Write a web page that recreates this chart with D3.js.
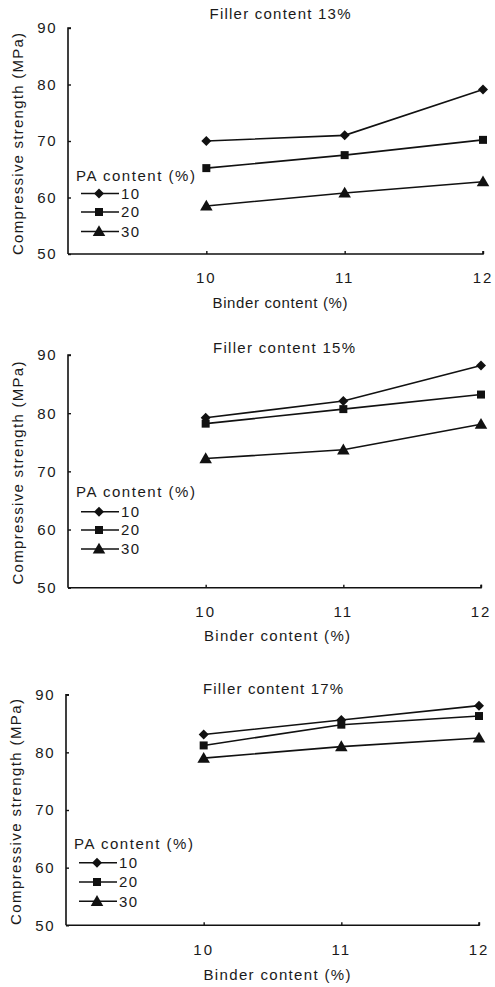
<!DOCTYPE html>
<html>
<head>
<meta charset="utf-8">
<script src="https://cdn.jsdelivr.net/npm/d3@7/dist/d3.min.js"></script>
<style>
  html, body { margin: 0; padding: 0; background: #fff; }
  svg { display: block; }
  text { font-family: "Liberation Sans", Arial, Helvetica, sans-serif; fill: #1a1a1a; }
</style>
</head>
<body>
<svg id="chart" width="495" height="987"></svg>
<script>
// Compressive strength vs binder content, one panel per filler content
const binderContent = [10, 11, 12];
const paContent = ["10", "20", "30"];
const fillerContent = ["13%", "15%", "17%"];
const yTicks = [50, 60, 70, 80, 90];

// Compressive strength (MPa) for PA content 10 / 20 / 30 %
const filler13_pa10 = [70.0, 71.0, 79.1];
const filler13_pa20 = [65.2, 67.5, 70.2];
const filler13_pa30 = [58.5, 60.8, 62.8];

const filler15_pa10 = [79.2, 82.1, 88.2];
const filler15_pa20 = [78.2, 80.7, 83.2];
const filler15_pa30 = [72.2, 73.7, 78.1];

const filler17_pa10 = [83.1, 85.6, 88.1];
const filler17_pa20 = [81.2, 84.8, 86.3];
const filler17_pa30 = [79.0, 81.0, 82.5];

const panelSeries = [
  [filler13_pa10, filler13_pa20, filler13_pa30],
  [filler15_pa10, filler15_pa20, filler15_pa30],
  [filler17_pa10, filler17_pa20, filler17_pa30]
];

// Panel geometry
const panels = [
  { left: 68, right: 483, top: 28, bottom: 254, titleX: 280, titleY: 19, titleW: 141,
    tickY: 283, xTitleX: 280, xTitleY: 308, xTitleW: 135, yTitleX: 23, yTitleY: 144, yTitleW: 222,
    legX: 76, legTitleY: 181, legRows: [193.5, 212, 231.5] },
  { left: 68, right: 481, top: 355, bottom: 587.7, titleX: 284, titleY: 353, titleW: 142,
    tickY: 617, xTitleX: 277, xTitleY: 641, xTitleW: 146, yTitleX: 23, yTitleY: 473, yTitleW: 223,
    legX: 76, legTitleY: 497, legRows: [511.7, 530, 549] },
  { left: 66, right: 479, top: 694.7, bottom: 925.3, titleX: 273, titleY: 694, titleW: 140,
    tickY: 955, xTitleX: 277, xTitleY: 980, xTitleW: 147, yTitleX: 21, yTitleY: 812, yTitleW: 226,
    legX: 74, legTitleY: 849, legRows: [862.7, 882, 901.3] }
];

const ink = "#111";
const svg = d3.select("#chart");

// marker shapes: diamond (rotated square), square, triangle
const markerDefs = [
  { d: d3.symbol().type(d3.symbolSquare).size(50)(), rot: 45, dy: 0 },
  { d: d3.symbol().type(d3.symbolSquare).size(64)(), rot: 0, dy: 0 },
  { d: d3.symbol().type(d3.symbolTriangle).size(68)(), rot: 0, dy: 1 }
];
const markerTransform = (si, cx, cy) =>
  `translate(${cx},${cy + markerDefs[si].dy}) rotate(${markerDefs[si].rot})`;

panels.forEach((p, pi) => {
  const g = svg.append("g");
  const x = d3.scaleLinear().domain([9, 12]).range([p.left, p.right]);
  const y = d3.scaleLinear().domain([50, 90]).range([p.bottom, p.top]);

  // y axis with inward ticks
  const yAxis = g.append("g")
    .attr("transform", `translate(${p.left},0)`)
    .call(d3.axisRight(y).tickValues(yTicks).tickSize(3).tickFormat(""));
  yAxis.select(".domain").attr("d", `M3,${p.top}H0V${p.bottom}`)
    .attr("stroke", ink).attr("stroke-width", 1.6);
  yAxis.selectAll(".tick line").attr("stroke", ink).attr("stroke-width", 1.4);

  g.selectAll(".ylab").data(yTicks).join("text")
    .attr("x", p.left - 11)
    .attr("y", d => y(d))
    .attr("dy", "0.36em")
    .attr("text-anchor", "end")
    .attr("font-size", 15)
    .attr("letter-spacing", 1.5)
    .text(d => d);

  // x axis with inward ticks
  const xAxis = g.append("g")
    .attr("transform", `translate(0,${p.bottom})`)
    .call(d3.axisTop(x).tickValues(binderContent).tickSize(3).tickFormat(""));
  xAxis.select(".domain").attr("d", `M${p.left},0H${p.right}V-3`)
    .attr("stroke", ink).attr("stroke-width", 1.6);
  xAxis.selectAll(".tick line").attr("stroke", ink).attr("stroke-width", 1.4);

  g.selectAll(".xlab").data(binderContent).join("text")
    .attr("x", d => x(d))
    .attr("y", p.tickY)
    .attr("text-anchor", "middle")
    .attr("font-size", 15)
    .attr("letter-spacing", 2)
    .text(d => d);

  // titles
  g.append("text")
    .attr("x", p.titleX).attr("y", p.titleY)
    .attr("text-anchor", "middle").attr("font-size", 15)
    .attr("textLength", p.titleW).attr("lengthAdjust", "spacing")
    .text(`Filler content ${fillerContent[pi]}`);

  g.append("text")
    .attr("x", p.xTitleX).attr("y", p.xTitleY)
    .attr("text-anchor", "middle").attr("font-size", 15)
    .attr("textLength", p.xTitleW).attr("lengthAdjust", "spacing")
    .text("Binder content (%)");

  g.append("text")
    .attr("transform", `translate(${p.yTitleX},${p.yTitleY}) rotate(-90)`)
    .attr("text-anchor", "middle").attr("font-size", 15)
    .attr("textLength", p.yTitleW).attr("lengthAdjust", "spacing")
    .text("Compressive strength (MPa)");

  // series lines and markers
  const line = d3.line().x((d, i) => x(binderContent[i])).y(d => y(d));
  panelSeries[pi].forEach((vals, si) => {
    g.append("path")
      .attr("d", line(vals))
      .attr("fill", "none").attr("stroke", ink).attr("stroke-width", 1.6);
    g.selectAll(null).data(vals).join("path")
      .attr("transform", (d, i) => markerTransform(si, x(binderContent[i]), y(d)))
      .attr("d", markerDefs[si].d)
      .attr("fill", ink);
  });

  // legend
  g.append("text")
    .attr("x", p.legX).attr("y", p.legTitleY)
    .attr("font-size", 15)
    .attr("textLength", 119).attr("lengthAdjust", "spacing")
    .text("PA content (%)");
  paContent.forEach((lab, si) => {
    const ry = p.legRows[si];
    g.append("line")
      .attr("x1", p.legX + 5).attr("x2", p.legX + 43)
      .attr("y1", ry).attr("y2", ry)
      .attr("stroke", ink).attr("stroke-width", 1.5);
    g.append("path")
      .attr("transform", markerTransform(si, p.legX + 23, ry))
      .attr("d", markerDefs[si].d).attr("fill", ink);
    g.append("text")
      .attr("x", p.legX + 45).attr("y", ry)
      .attr("dy", "0.36em")
      .attr("font-size", 15).attr("letter-spacing", 1.5)
      .text(lab);
  });
});
</script>
</body>
</html>
